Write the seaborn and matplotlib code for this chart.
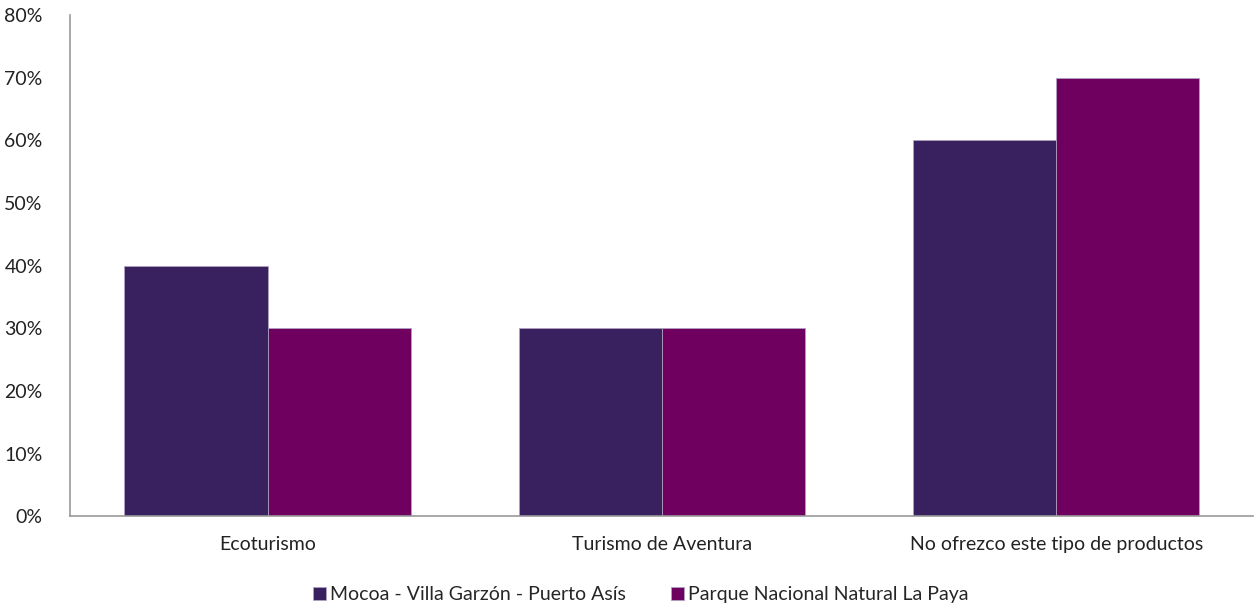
import matplotlib
matplotlib.use("Agg")
import matplotlib.pyplot as plt
import numpy as np
import pandas as pd
import seaborn as sns
from matplotlib.ticker import PercentFormatter

categories = ["Ecoturismo", "Turismo de Aventura", "No ofrezco este tipo de productos"]
series_names = ["Mocoa - Villa Garzón - Puerto Asís", "Parque Nacional Natural La Paya"]
mocoa = [0.40, 0.30, 0.60]
paya = [0.30, 0.30, 0.70]
colors = ["#39205E", "#700060"]

df = pd.DataFrame({
    "categoria": categories * 2,
    "serie": [series_names[0]] * 3 + [series_names[1]] * 3,
    "valor": mocoa + paya,
})

sns.set_style("white")
plt.rcParams["font.family"] = ["Lato", "DejaVu Sans"]

fig, ax = plt.subplots(figsize=(12.56, 6.08), dpi=100)
fig.subplots_adjust(left=0.056, right=0.998, top=0.975, bottom=0.151)

sns.barplot(data=df, x="categoria", y="valor", hue="serie", palette=colors,
            width=0.726, ax=ax, edgecolor="#b0a0c0", linewidth=0.6, saturation=1)

ax.set_ylim(0, 0.8)
ax.set_yticks(np.arange(0, 0.81, 0.1))
ax.yaxis.set_major_formatter(PercentFormatter(1.0, decimals=0))
ax.set_xlabel("")
ax.set_ylabel("")
ax.tick_params(axis="both", length=0, labelsize=14, colors="#222222")
ax.tick_params(axis="y", pad=20)
ax.tick_params(axis="x", pad=14)
for s in ["top", "right"]:
    ax.spines[s].set_visible(False)
for s in ["left", "bottom"]:
    ax.spines[s].set_color("#999999")
    ax.spines[s].set_linewidth(1.2)

ax.legend(loc="upper center", bbox_to_anchor=(0.482, -0.105), ncol=2, frameon=False,
          fontsize=14, handlelength=0.7, handleheight=0.7, handletextpad=0.2,
          columnspacing=2.3)

fig.savefig("out.png", dpi=100)
